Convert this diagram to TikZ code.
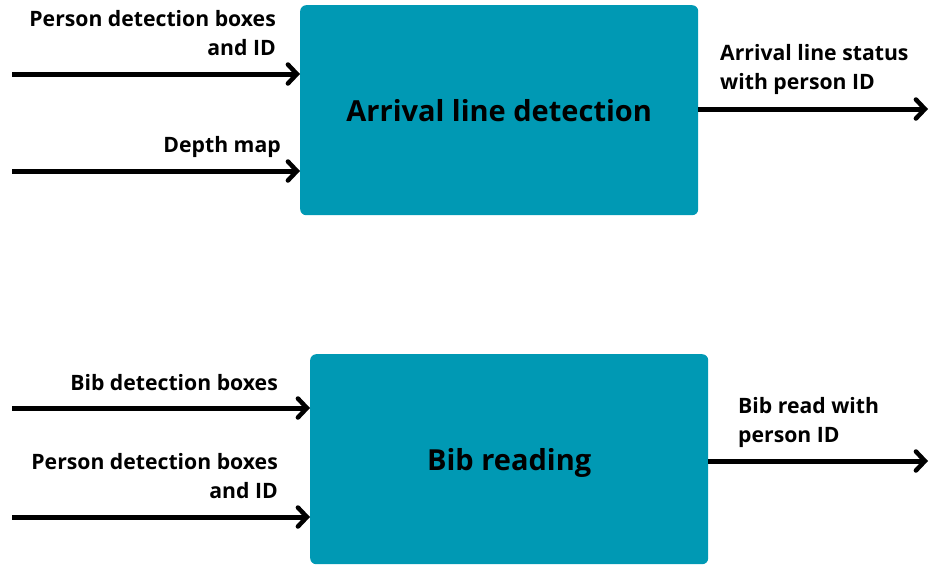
\documentclass[tikz,border=0pt]{standalone}
\usepackage{fontspec}
\setmainfont{Open Sans}
\usetikzlibrary{arrows.meta}
\definecolor{boxteal}{RGB}{0,153,180}
\begin{document}
\begin{tikzpicture}[x=1pt,y=-1pt,
  procbox/.style={fill=boxteal, rounded corners=6pt, inner sep=0pt},
  boxlabel/.style={font=\bfseries\fontsize{29}{34}\selectfont},
  lbl/.style={font=\bfseries\fontsize{21.2}{29}\selectfont, inner sep=0pt},
  flow/.style={line width=5pt, -{Straight Barb[length=9pt,width=19pt,line width=4.5pt,line cap=round]}}]
\useasboundingbox (0,0) rectangle (940,566);
% boxes
\node[procbox, minimum width=398pt, minimum height=210pt, anchor=north west] (ald) at (300,5) {};
\node[boxlabel] (aldt) at (ald.center) {Arrival line detection};
\node[procbox, minimum width=398pt, minimum height=210pt, anchor=north west] (bib) at (310,354) {};
\node[boxlabel] (bibt) at ([yshift=-4pt]bib.center) {Bib reading};
% free ends
\coordinate (i1) at (12,74);
\coordinate (i2) at (12,171);
\coordinate (o1) at (928,109);
\coordinate (i3) at (12,408);
\coordinate (i4) at (12,517);
\coordinate (o2) at (928,461);
% arrows
\draw[flow] (i1) -- (i1 -| ald.west);
\draw[flow] (i2) -- (i2 -| ald.west);
\draw[flow] (o1 -| ald.east) -- (o1);
\draw[flow] (i3) -- (i3 -| bib.west);
\draw[flow] (i4) -- (i4 -| bib.west);
\draw[flow] (o2 -| bib.east) -- (o2);
% labels
\node[lbl, align=right, anchor=north east] (l1) at (276,10) {Person detection boxes\\and ID};
\node[lbl, anchor=north east] (l2) at (281,136) {Depth map};
\node[lbl, align=left, anchor=north west] (l3) at (720,44) {Arrival line status\\with person ID};
\node[lbl, anchor=north east] (l4) at (278,374) {Bib detection boxes};
\node[lbl, align=right, anchor=north east] (l5) at (278,453) {Person detection boxes\\and ID};
\node[lbl, align=left, anchor=north west] (l6) at (738,397) {Bib read with\\person ID};
\end{tikzpicture}
\end{document}
